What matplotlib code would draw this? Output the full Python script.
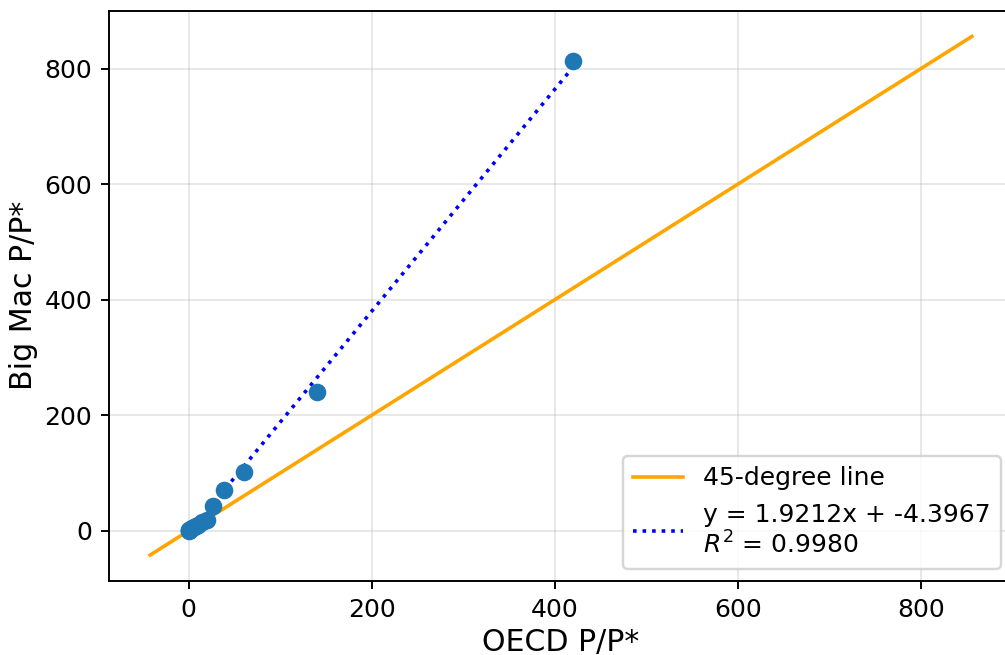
import matplotlib
matplotlib.use("Agg")
import matplotlib.pyplot as plt
import numpy as np

# OECD P/P* vs Big Mac P/P*
oecd = [0.3, 0.8, 1.0, 1.3, 2.5, 3.5, 5.8, 8.0, 10.0, 14.5, 20.0, 26.5, 38.5, 61.0, 140.0, 420.5]
bigmac = [0.0, 0.9, 1.2, 2.0, 3.4, 4.5, 6.9, 8.5, 10.0, 15.5, 19.0, 43.0, 70.7, 102.0, 240.0, 813.0]
line45 = [-42, 856]
slope = 1.9212
intercept = -4.3967
r2 = 0.9980

DPI = 173
fig = plt.figure(figsize=(1005 / DPI, 655 / DPI), dpi=DPI)
ax = fig.add_axes([109 / 1005, 74 / 655, 904 / 1005, 570.5 / 655])

ax.scatter(oecd, bigmac, color="#1f77b4", s=40, zorder=3)
ax.plot(line45, line45, color="orange", lw=1.5, label="45-degree line")
xs = np.array([min(oecd), max(oecd)])
ax.plot(xs, slope * xs + intercept, color="blue", ls=":", lw=1.5,
        label=f"y = {slope:.4f}x + {intercept:.4f}\n$R^2$ = {r2:.4f}")

ax.set_xlabel("OECD P/P*", fontsize=12.5, labelpad=2.5)
ax.set_ylabel("Big Mac P/P*", fontsize=12.5, labelpad=2.5)
ax.tick_params(labelsize=10.4)
ax.set_xticks([0, 200, 400, 600, 800])
ax.set_yticks([0, 200, 400, 600, 800])
ax.grid(True, alpha=0.3)
ax.legend(loc="lower right", fontsize=10.4)
ax.set_xlim(-86.9, 900.9)
ax.set_ylim(-86.9, 900.9)

fig.savefig("out.png", dpi=DPI)
